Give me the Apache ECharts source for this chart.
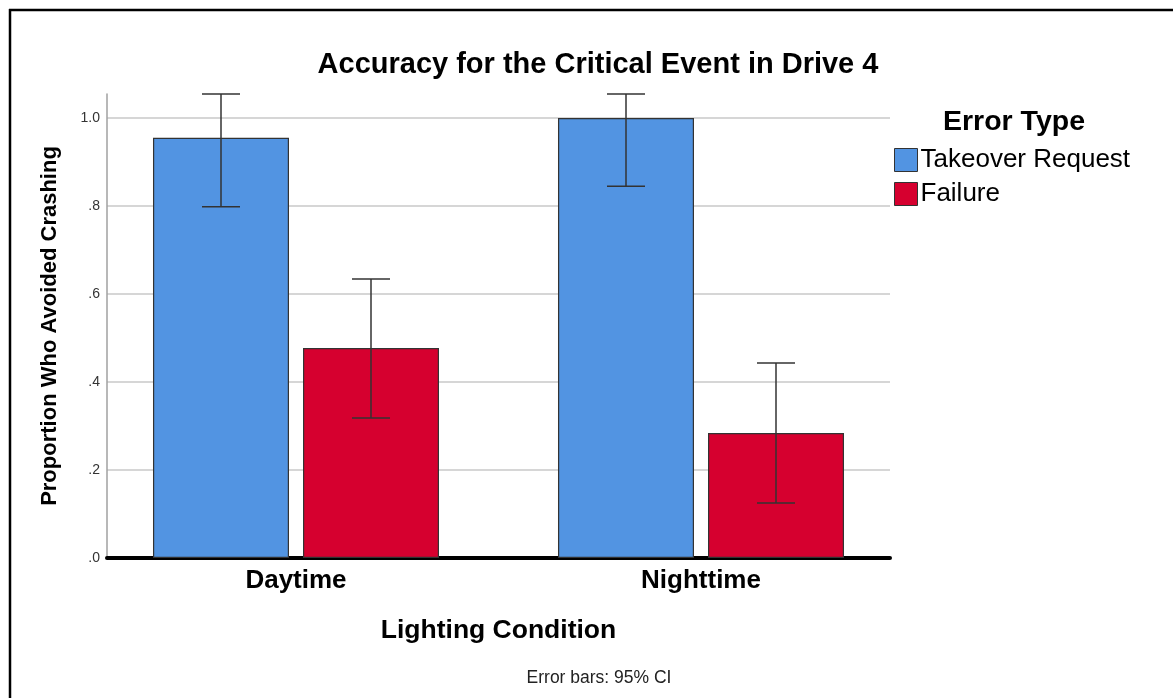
<!DOCTYPE html>
<html>
<head>
<meta charset="utf-8">
<script src="https://cdn.jsdelivr.net/npm/echarts@6/dist/echarts.min.js"></script>
<style>
html,body{margin:0;padding:0;background:#fff;}
#chart{width:1173px;height:698px;}
</style>
</head>
<body>
<div id="chart"></div>
<script>
// ---- data ----
const categories = ['Daytime', 'Nighttime'];
const seriesNames = ['Takeover Request', 'Failure'];
const takeoverValues = [0.955, 1.0];
const failureValues = [0.477, 0.284];
const takeoverCILow = [0.798, 0.845];
const takeoverCIHigh = [1.0545, 1.0545];
const failureCILow = [0.318, 0.125];
const failureCIHigh = [0.634, 0.443];
const yTickLabels = ['.0', '.2', '.4', '.6', '.8', '1.0'];

const FONT = '"Liberation Sans", Arial, sans-serif';
const BAR_W = 136;
const OFFSET = 75;
const YMAX = 1.0545;

function ciData(low, high) {
  return categories.map((c, i) => [i, low[i], high[i]]);
}

function errRender(offset) {
  return function (params, api) {
    const i = api.value(0);
    const lo = api.coord([i, api.value(1)]);
    const hi = api.coord([i, api.value(2)]);
    const x = lo[0] + offset;
    const hw = 19;
    const style = { stroke: '#333', lineWidth: 1.5 };
    return {
      type: 'group',
      children: [
        { type: 'line', shape: { x1: x, y1: hi[1], x2: x, y2: lo[1] }, style },
        { type: 'line', shape: { x1: x - hw, y1: hi[1], x2: x + hw, y2: hi[1] }, style },
        { type: 'line', shape: { x1: x - hw, y1: lo[1], x2: x + hw, y2: lo[1] }, style }
      ]
    };
  };
}

const chart = echarts.init(document.getElementById('chart'));
chart.setOption({
  backgroundColor: '#fff',
  animation: false,
  textStyle: { fontFamily: FONT },
  title: [
    { text: 'Accuracy for the Critical Event in Drive 4', left: 593, top: 45, textAlign: 'center',
      textStyle: { fontFamily: FONT, fontSize: 29, fontWeight: 'bold', color: '#000' } },
    { text: 'Error Type', left: 1009, top: 103, textAlign: 'center',
      textStyle: { fontFamily: FONT, fontSize: 28.5, fontWeight: 'bold', color: '#000' } },
    { text: 'Error bars: 95% CI', left: 594, top: 664, textAlign: 'center',
      textStyle: { fontFamily: FONT, fontSize: 17.5, fontWeight: 'normal', color: '#222' } }
  ],
  legend: {
    data: seriesNames,
    orient: 'vertical',
    left: 889,
    top: 142,
    itemWidth: 23,
    itemHeight: 23,
    itemGap: 8,
    icon: 'rect',
    itemStyle: { borderColor: '#333', borderWidth: 1 },
    textStyle: { fontFamily: FONT, fontSize: 26, color: '#000', padding: [0, 0, 0, -2] }
  },
  graphic: [
    { type: 'line', shape: { x1: 10, y1: 9, x2: 10, y2: 698 }, style: { stroke: '#000', lineWidth: 2.5 } },
    { type: 'line', shape: { x1: 9, y1: 10, x2: 1173, y2: 10 }, style: { stroke: '#000', lineWidth: 2.5 } }
  ],
  grid: [
    { left: 107, top: 94, width: 783, height: 464 },
    { left: 93.5, top: 94, width: 810, height: 464 }
  ],
  xAxis: [
    { gridIndex: 0, type: 'category', data: categories,
      axisLine: { show: true, lineStyle: { color: '#000', width: 4 } },
      axisTick: { show: false }, axisLabel: { show: false }, splitLine: { show: false } },
    { gridIndex: 1, type: 'category', data: categories,
      name: 'Lighting Condition', nameLocation: 'middle', nameGap: 59,
      nameTextStyle: { fontFamily: FONT, fontSize: 26.5, fontWeight: 'bold', color: '#000' },
      axisLine: { show: false }, axisTick: { show: false },
      axisLabel: { margin: 10, fontFamily: FONT, fontSize: 26, fontWeight: 'bold', color: '#000' },
      splitLine: { show: false } }
  ],
  yAxis: [
    { gridIndex: 0, type: 'value', min: 0, max: YMAX, interval: 0.2,
      name: 'Proportion Who Avoided Crashing', nameLocation: 'middle', nameGap: 46, nameRotate: 90,
      nameTextStyle: { fontFamily: FONT, fontSize: 22, fontWeight: 'bold', color: '#000' },
      axisLine: { show: true, lineStyle: { color: '#a0a0a0', width: 1.5 } },
      axisTick: { show: false },
      axisLabel: { margin: 7, fontFamily: FONT, fontSize: 14, color: '#333', showMaxLabel: false,
        formatter: v => yTickLabels[Math.round(v / 0.2)] || '' },
      splitLine: { show: true, showMaxLine: false, lineStyle: { color: '#d6d6d6', width: 2 } } },
    { gridIndex: 1, type: 'value', min: 0, max: YMAX, interval: 0.2, show: false,
      splitLine: { show: false } }
  ],
  series: [
    { name: seriesNames[0], type: 'bar', xAxisIndex: 1, yAxisIndex: 1, data: takeoverValues,
      barWidth: BAR_W, barGap: '10.3%',
      itemStyle: { color: '#5294e2', borderColor: '#333', borderWidth: 1.2 } },
    { name: seriesNames[1], type: 'bar', xAxisIndex: 1, yAxisIndex: 1, data: failureValues,
      barWidth: BAR_W, barGap: '10.3%',
      itemStyle: { color: '#d6002f', borderColor: '#333', borderWidth: 1.2 } },
    { type: 'custom', xAxisIndex: 1, yAxisIndex: 1, clip: false, z: 5,
      renderItem: errRender(-OFFSET), data: ciData(takeoverCILow, takeoverCIHigh) },
    { type: 'custom', xAxisIndex: 1, yAxisIndex: 1, clip: false, z: 5,
      renderItem: errRender(OFFSET), data: ciData(failureCILow, failureCIHigh) }
  ]
});
</script>
</body>
</html>
